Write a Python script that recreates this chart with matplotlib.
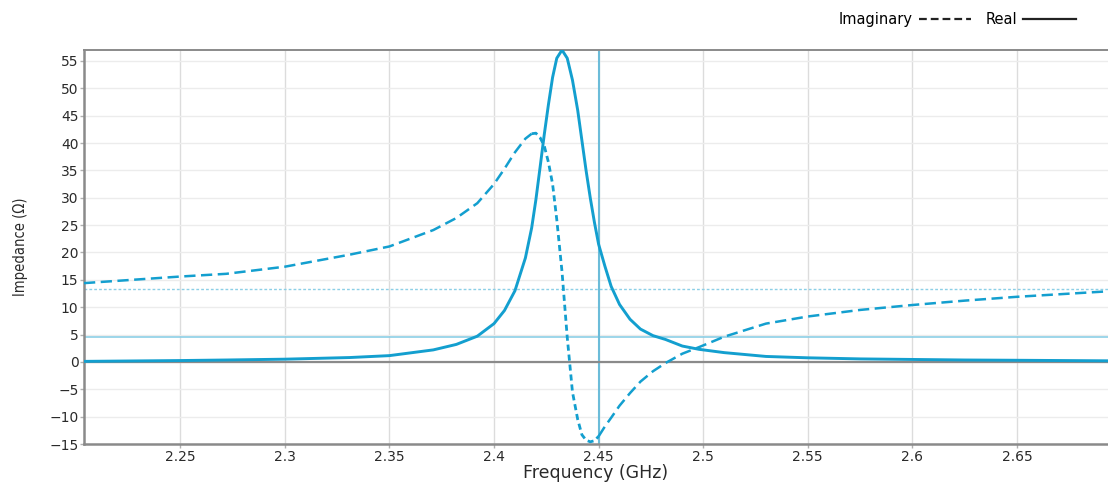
import matplotlib.pyplot as plt
from matplotlib import font_manager
from matplotlib.lines import Line2D
import numpy as np

plt.rcParams['font.family'] = ['DejaVu Sans']
plt.rcParams['font.size'] = 10

# sweep data (GHz / Ohm)
freq = [2.204, 2.25, 2.272, 2.3, 2.331, 2.35, 2.371, 2.382, 2.392, 2.400,
        2.405, 2.410, 2.415, 2.418, 2.420, 2.422, 2.424, 2.426, 2.428, 2.430,
        2.4325, 2.435, 2.4375, 2.440, 2.442, 2.444, 2.446, 2.448, 2.450, 2.453,
        2.456, 2.460, 2.465, 2.470, 2.476, 2.482, 2.490, 2.498, 2.510, 2.530,
        2.550, 2.575, 2.600, 2.625, 2.650, 2.6935]
z_real = [0.1, 0.25, 0.35, 0.5, 0.8, 1.15, 2.2, 3.2, 4.7, 7.0,
          9.4, 13.0, 19.0, 24.5, 29.6, 35.5, 41.5, 47.0, 52.0, 55.5,
          57.0, 55.5, 51.5, 46.0, 40.5, 35.0, 30.0, 25.5, 21.5, 17.5,
          13.8, 10.5, 7.8, 6.0, 4.8, 4.1, 2.9, 2.3, 1.7, 1.0,
          0.75, 0.55, 0.45, 0.35, 0.3, 0.2]
z_imag = [14.4, 15.6, 16.1, 17.4, 19.6, 21.1, 24.1, 26.3, 29.0, 32.5,
          35.3, 38.3, 40.8, 41.7, 41.8, 41.0, 39.5, 36.5, 32.5, 26.0,
          16.5, 4.5, -5.5, -10.5, -13.3, -14.3, -14.6, -14.4, -13.6, -11.8,
          -10.2, -8.0, -5.7, -3.6, -1.7, -0.2, 1.5, 2.7, 4.6, 7.0,
          8.3, 9.5, 10.4, 11.2, 11.9, 12.9]

marker_freq = 2.45
ref_solid = 4.6
ref_dotted = 13.3

xticks = [2.25, 2.3, 2.35, 2.4, 2.45, 2.5, 2.55, 2.6, 2.65]
xticklabels = ['2.25', '2.3', '2.35', '2.4', '2.45', '2.5', '2.55', '2.6', '2.65']
yticks = list(range(-15, 60, 5))

clrLine = '#139fcf'
clrRef = '#8ccfe6'
clrText = '#2a2a2a'

# narrow face for the y label if one is around
fonts = font_manager.fontManager.ttflist
if any(f.name == 'Liberation Sans Narrow' for f in fonts):
    ylab_font = dict(family='Liberation Sans Narrow', fontsize=12)
elif any(f.name == 'DejaVu Sans' and f.stretch == 'condensed' for f in fonts):
    ylab_font = dict(family='DejaVu Sans', fontstretch='condensed', fontsize=10.5)
else:
    ylab_font = dict(family='Liberation Sans', fontsize=9.5)

fig = plt.figure(figsize=(11.08, 4.84), dpi=100)
ax = fig.add_axes([84/1108, 40/484, 1 - 84/1108, 394/484])

# grid
for xt in xticks:
    ax.axvline(xt, color='#dcdcdc', lw=1, zorder=0)
for yt in yticks:
    ax.axhline(yt, color='#ececec', lw=1, zorder=0)

# reference lines
ax.axhline(ref_solid, color=clrRef, lw=1.2, zorder=1)
ax.axhline(ref_dotted, color=clrRef, lw=1, ls=(0, (2, 1.5)), zorder=1)
ax.axvline(marker_freq, color='#6cbcd9', lw=1.5, zorder=1)
ax.axhline(0, color='#8a8a8a', lw=1.6, zorder=1)

f = np.array(freq)
zi = np.array(z_imag)
ax.plot(freq, z_real, color=clrLine, lw=2.1, zorder=3)

# dashed imaginary curve, finer dashes across the steep part
steep = (f >= 2.418) & (f <= 2.450)
left = f <= 2.418
right = f >= 2.450
ax.plot(f[left], zi[left], color=clrLine, lw=1.8, ls=(0, (4.5, 2.2)), zorder=3)
ax.plot(f[steep], zi[steep], color=clrLine, lw=2.0, ls=(0, (2.2, 1.4)), zorder=3)
ax.plot(f[right], zi[right], color=clrLine, lw=1.8, ls=(0, (4.5, 2.2)), zorder=3)

ax.set_xlim(2.204, 2.6935)
ax.set_ylim(-15, 57)
ax.set_xticks(xticks)
ax.set_xticklabels(xticklabels)
ax.set_yticks(yticks)
ax.tick_params(axis='both', length=3, width=1, color='#b0b0b0',
               labelsize=10, labelcolor=clrText)
ax.tick_params(axis='x', pad=1)
ax.tick_params(axis='y', pad=1)

for side in ['left', 'bottom', 'top']:
    ax.spines[side].set_color('#8a8a8a')
    ax.spines[side].set_linewidth(1.8)
ax.spines['top'].set_linewidth(1.4)
ax.spines['right'].set_visible(False)

ax.set_xlabel('Frequency (GHz)', fontsize=12.5, labelpad=0, color=clrText)
ax.set_ylabel('Impedance (Ω)', labelpad=15, color=clrText, **ylab_font)

handles = [Line2D([], [], color='#222222', lw=1.6, ls=(0, (3.5, 1.8))),
           Line2D([], [], color='#222222', lw=1.6)]
fig.legend(handles, ['Imaginary', 'Real'], loc='upper right', ncol=2,
           bbox_to_anchor=(1089/1108, 1.002), frameon=False,
           markerfirst=False, handlelength=3.6, handletextpad=0.4,
           columnspacing=1.0, fontsize=10.5)

fig.savefig('out.png', dpi=100)
